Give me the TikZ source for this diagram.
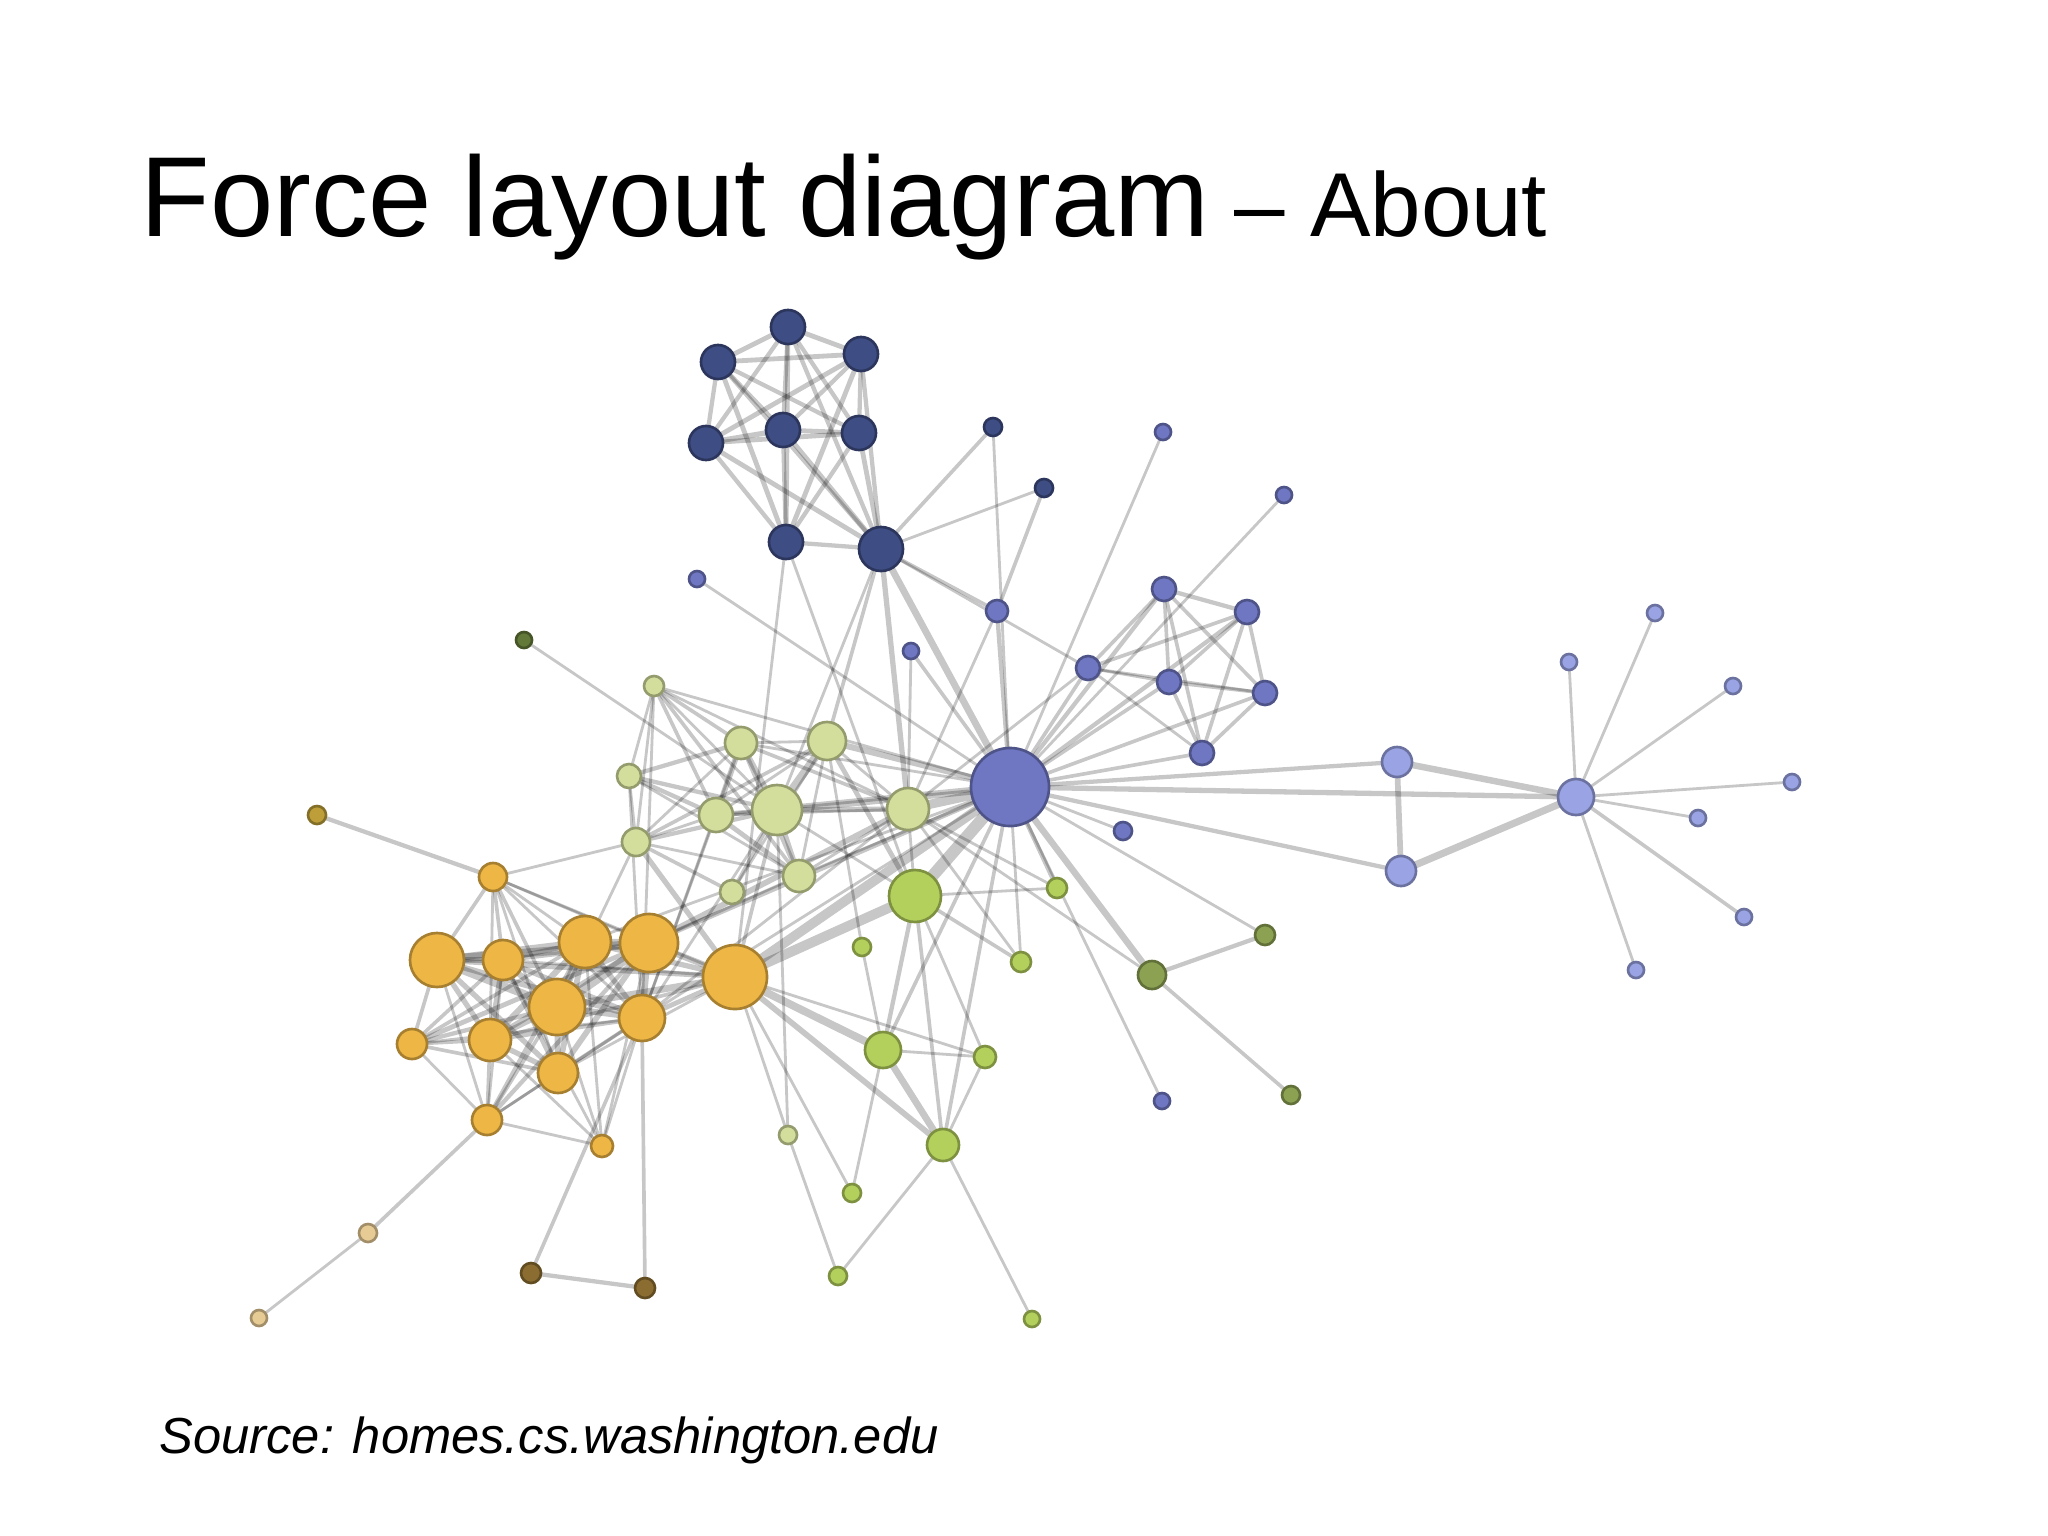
\documentclass[tikz,border=0pt]{standalone}
\usepackage{fontspec}
\setmainfont{Liberation Sans}
\pgfdeclarelayer{bg}
\pgfdeclarelayer{edges}
\pgfsetlayers{bg,edges,main}
\definecolor{cA}{HTML}{9AA3E3}
\definecolor{cB}{HTML}{6F76C2}
\definecolor{cC}{HTML}{3F4D85}
\definecolor{cD}{HTML}{D4DE9C}
\definecolor{cE}{HTML}{B3CF5C}
\definecolor{cF}{HTML}{8CA252}
\definecolor{cG}{HTML}{637939}
\definecolor{cH}{HTML}{E7CB94}
\definecolor{cI}{HTML}{EEB644}
\definecolor{cJ}{HTML}{BD9E39}
\definecolor{cK}{HTML}{8C6D31}
\begin{document}
\begin{tikzpicture}[x=0.01cm,y=-0.01cm,
  nd/.style 2 args={circle,inner sep=0pt,outer sep=0pt,minimum size=#2*0.02cm,fill=#1,draw=#1!70!black,line width=0.75pt},
  lnk/.style={draw=black,draw opacity=0.22,line cap=round},
  txt/.style={anchor=base west,inner sep=0pt,text=black}]
\begin{pgfonlayer}{bg}
\fill[white] (0,0) rectangle (2048,1536);
\end{pgfonlayer}
\useasboundingbox (0,0) rectangle (2048,1536);

% title and source
\node[txt,font=\fontsize{32.35pt}{38pt}\selectfont] (title) at (140,236) {Force layout diagram\fontsize{25.8pt}{30pt}\selectfont\ – About};
\node[txt,font=\itshape\fontsize{14.4pt}{17pt}\selectfont] (src) at (159,1453) {Source: homes.cs.washington.edu};

% group 1
\node[nd={cA}{18}] (Myriel) at (1576,797) {};
\node[nd={cA}{15}] (Baptistine) at (1397,762) {};
\node[nd={cA}{15}] (Magloire) at (1401,871) {};
\node[nd={cA}{8}] (Napoleon) at (1569,662) {};
\node[nd={cA}{8}] (CountessdeLo) at (1655,613) {};
\node[nd={cA}{8}] (Geborand) at (1733,686) {};
\node[nd={cA}{8}] (Champtercier) at (1792,782) {};
\node[nd={cA}{8}] (Cravatte) at (1698,818) {};
\node[nd={cA}{8}] (Count) at (1744,917) {};
\node[nd={cA}{8}] (OldMan) at (1636,970) {};
% group 2
\node[nd={cB}{39}] (Valjean) at (1010,787) {};
\node[nd={cB}{8}] (Labarre) at (1163,432) {};
\node[nd={cB}{8}] (MmedeR) at (1284,495) {};
\node[nd={cB}{9}] (Isabeau) at (1123,831) {};
\node[nd={cB}{8}] (Gervais) at (1162,1101) {};
\node[nd={cB}{8}] (Scaufflaire) at (697,579) {};
\node[nd={cB}{8}] (Woman1) at (911,651) {};
\node[nd={cB}{11}] (Simplice) at (997,611) {};
\node[nd={cB}{12}] (Judge) at (1164,589) {};
\node[nd={cB}{12}] (Champmathieu) at (1247,612) {};
\node[nd={cB}{12}] (Bamatabois) at (1088,668) {};
\node[nd={cB}{12}] (Brevet) at (1169,682) {};
\node[nd={cB}{12}] (Chenildieu) at (1265,693) {};
\node[nd={cB}{12}] (Cochepaille) at (1202,753) {};
% group 3
\node[nd={cC}{17}] (Listolier) at (788,327) {};
\node[nd={cC}{17}] (Fameuil) at (718,362) {};
\node[nd={cC}{17}] (Blacheville) at (861,354) {};
\node[nd={cC}{17}] (Favourite) at (706,443) {};
\node[nd={cC}{17}] (Dahlia) at (783,430) {};
\node[nd={cC}{17}] (Zephine) at (859,433) {};
\node[nd={cC}{17}] (Tholomyes) at (786,542) {};
\node[nd={cC}{22}] (Fantine) at (881,549) {};
\node[nd={cC}{9}] (Marguerite) at (993,427) {};
\node[nd={cC}{9}] (Perpetue) at (1044,488) {};
% group 4
\node[nd={cD}{25}] (Thenardier) at (777,810) {};
\node[nd={cD}{19}] (MmeThenardier) at (827,741) {};
\node[nd={cD}{21}] (Javert) at (908,809) {};
\node[nd={cD}{9}] (Pontmercy) at (788,1135) {};
\node[nd={cD}{14}] (Eponine) at (636,842) {};
\node[nd={cD}{12}] (Anzelma) at (732,892) {};
\node[nd={cD}{17}] (Gueulemer) at (716,815) {};
\node[nd={cD}{16}] (Babet) at (741,743) {};
\node[nd={cD}{16}] (Claquesous) at (799,876) {};
\node[nd={cD}{10}] (Montparnasse) at (654,686) {};
\node[nd={cD}{12}] (Brujon) at (629,776) {};
% group 5
\node[nd={cE}{26}] (Cosette) at (915,896) {};
\node[nd={cE}{10}] (Woman2) at (1057,888) {};
\node[nd={cE}{9}] (Magnon) at (862,947) {};
\node[nd={cE}{10}] (Toussaint) at (1021,962) {};
\node[nd={cE}{18}] (Gillenormand) at (883,1050) {};
\node[nd={cE}{11}] (LtGillenormand) at (985,1057) {};
\node[nd={cE}{16}] (MlleGillenormand) at (943,1145) {};
\node[nd={cE}{9}] (BaronessT) at (852,1193) {};
\node[nd={cE}{9}] (MmePontmercy) at (838,1276) {};
\node[nd={cE}{8}] (MlleVaubois) at (1032,1319) {};
% group 0
\node[nd={cF}{14}] (Fauchelevent) at (1152,975) {};
\node[nd={cF}{10}] (MotherInnocent) at (1265,935) {};
\node[nd={cF}{9}] (Gribier) at (1291,1095) {};
% small groups
\node[nd={cG}{8}] (Boulatruelle) at (524,640) {};
\node[nd={cH}{9}] (MmeBurgon) at (368,1233) {};
\node[nd={cH}{8}] (Jondrette) at (259,1318) {};
\node[nd={cJ}{9}] (MotherPlutarch) at (317,815) {};
\node[nd={cK}{10}] (Child1) at (531,1273) {};
\node[nd={cK}{10}] (Child2) at (645,1288) {};
% group 8
\node[nd={cI}{14}] (Mabeuf) at (493,877) {};
\node[nd={cI}{27}] (Combeferre) at (437,960) {};
\node[nd={cI}{20}] (Bahorel) at (503,960) {};
\node[nd={cI}{26}] (Bossuet) at (585,942) {};
\node[nd={cI}{29}] (Enjolras) at (649,943) {};
\node[nd={cI}{32}] (Marius) at (735,977) {};
\node[nd={cI}{28}] (Courfeyrac) at (557,1007) {};
\node[nd={cI}{23}] (Gavroche) at (642,1018) {};
\node[nd={cI}{15}] (Prouvaire) at (412,1044) {};
\node[nd={cI}{21}] (Joly) at (490,1040) {};
\node[nd={cI}{20}] (Feuilly) at (558,1073) {};
\node[nd={cI}{15}] (Grantaire) at (487,1120) {};
\node[nd={cI}{11}] (Hucheloup) at (602,1146) {};

\begin{pgfonlayer}{edges}
\foreach \a/\b/\w in {
Napoleon/Myriel/1, Baptistine/Myriel/8, Magloire/Myriel/10, Magloire/Baptistine/6,
CountessdeLo/Myriel/1, Geborand/Myriel/1, Champtercier/Myriel/1, Cravatte/Myriel/1,
Count/Myriel/2, OldMan/Myriel/1,
Valjean/Labarre/1, Valjean/Magloire/3, Valjean/Baptistine/3, Valjean/Myriel/5,
Marguerite/Valjean/1, MmedeR/Valjean/1, Isabeau/Valjean/1, Gervais/Valjean/1,
Listolier/Tholomyes/4, Fameuil/Tholomyes/4, Fameuil/Listolier/4,
Blacheville/Tholomyes/4, Blacheville/Listolier/4, Blacheville/Fameuil/4,
Favourite/Tholomyes/3, Favourite/Listolier/3, Favourite/Fameuil/3, Favourite/Blacheville/4,
Dahlia/Tholomyes/3, Dahlia/Listolier/3, Dahlia/Fameuil/3, Dahlia/Blacheville/3, Dahlia/Favourite/5,
Zephine/Tholomyes/3, Zephine/Listolier/3, Zephine/Fameuil/3, Zephine/Blacheville/3, Zephine/Favourite/4, Zephine/Dahlia/4,
Fantine/Tholomyes/3, Fantine/Listolier/3, Fantine/Fameuil/3, Fantine/Blacheville/3,
Fantine/Favourite/4, Fantine/Dahlia/4, Fantine/Zephine/4, Fantine/Marguerite/2, Fantine/Valjean/9,
MmeThenardier/Fantine/2, MmeThenardier/Valjean/7,
Thenardier/MmeThenardier/13, Thenardier/Fantine/1, Thenardier/Valjean/12,
Cosette/MmeThenardier/4, Cosette/Valjean/31, Cosette/Tholomyes/1, Cosette/Thenardier/1,
Javert/Valjean/17, Javert/Fantine/5, Javert/Thenardier/5, Javert/MmeThenardier/1, Javert/Cosette/1,
Fauchelevent/Valjean/8, Fauchelevent/Javert/1,
Bamatabois/Fantine/1, Bamatabois/Javert/1, Bamatabois/Valjean/2,
Perpetue/Fantine/1, Simplice/Perpetue/2, Simplice/Valjean/3, Simplice/Fantine/2, Simplice/Javert/1,
Scaufflaire/Valjean/1, Woman1/Valjean/2, Woman1/Javert/1,
Judge/Valjean/3, Judge/Bamatabois/2,
Champmathieu/Valjean/3, Champmathieu/Judge/3, Champmathieu/Bamatabois/2,
Brevet/Judge/2, Brevet/Champmathieu/2, Brevet/Valjean/2, Brevet/Bamatabois/1,
Chenildieu/Judge/2, Chenildieu/Champmathieu/2, Chenildieu/Brevet/2, Chenildieu/Valjean/2, Chenildieu/Bamatabois/1,
Cochepaille/Judge/2, Cochepaille/Champmathieu/2, Cochepaille/Brevet/2, Cochepaille/Chenildieu/2, Cochepaille/Valjean/2, Cochepaille/Bamatabois/1,
Pontmercy/Thenardier/1, Boulatruelle/Thenardier/1,
Eponine/MmeThenardier/2, Eponine/Thenardier/3,
Anzelma/Eponine/2, Anzelma/Thenardier/2, Anzelma/MmeThenardier/1,
Woman2/Valjean/3, Woman2/Cosette/1, Woman2/Javert/1,
MotherInnocent/Fauchelevent/3, MotherInnocent/Valjean/1, Gribier/Fauchelevent/2,
MmeBurgon/Jondrette/1, Grantaire/MmeBurgon/2,
Gavroche/Thenardier/1, Gavroche/Javert/1, Gavroche/Valjean/1,
Gillenormand/Cosette/3, Gillenormand/Valjean/2,
Magnon/Gillenormand/1, Magnon/MmeThenardier/1,
MlleGillenormand/Gillenormand/9, MlleGillenormand/Cosette/2, MlleGillenormand/Valjean/2,
MmePontmercy/MlleGillenormand/1, MmePontmercy/Pontmercy/1, MlleVaubois/MlleGillenormand/1,
LtGillenormand/MlleGillenormand/1, LtGillenormand/Gillenormand/1, LtGillenormand/Cosette/1,
Marius/MlleGillenormand/6, Marius/Gillenormand/12, Marius/Pontmercy/1, Marius/LtGillenormand/1,
Marius/Cosette/21, Marius/Valjean/19, Marius/Tholomyes/1, Marius/Thenardier/2, Marius/Eponine/5, Marius/Gavroche/4,
BaronessT/Gillenormand/1, BaronessT/Marius/1,
Mabeuf/Marius/1, Mabeuf/Eponine/1, Mabeuf/Gavroche/1,
Enjolras/Marius/7, Enjolras/Gavroche/7, Enjolras/Javert/6, Enjolras/Mabeuf/1, Enjolras/Valjean/4,
Combeferre/Enjolras/15, Combeferre/Marius/5, Combeferre/Gavroche/6, Combeferre/Mabeuf/2,
Prouvaire/Gavroche/1, Prouvaire/Enjolras/4, Prouvaire/Combeferre/2,
Feuilly/Gavroche/2, Feuilly/Enjolras/6, Feuilly/Prouvaire/2, Feuilly/Combeferre/5, Feuilly/Mabeuf/1, Feuilly/Marius/1,
Courfeyrac/Marius/9, Courfeyrac/Enjolras/17, Courfeyrac/Combeferre/13, Courfeyrac/Gavroche/7,
Courfeyrac/Mabeuf/2, Courfeyrac/Eponine/1, Courfeyrac/Feuilly/6, Courfeyrac/Prouvaire/3,
Bahorel/Combeferre/5, Bahorel/Gavroche/5, Bahorel/Courfeyrac/6, Bahorel/Mabeuf/2,
Bahorel/Enjolras/4, Bahorel/Feuilly/3, Bahorel/Prouvaire/2, Bahorel/Marius/1,
Bossuet/Marius/5, Bossuet/Courfeyrac/12, Bossuet/Gavroche/5, Bossuet/Bahorel/4, Bossuet/Enjolras/10,
Bossuet/Feuilly/6, Bossuet/Prouvaire/2, Bossuet/Combeferre/9, Bossuet/Mabeuf/1, Bossuet/Valjean/1,
Joly/Bahorel/5, Joly/Bossuet/7, Joly/Gavroche/3, Joly/Courfeyrac/5, Joly/Enjolras/5,
Joly/Feuilly/5, Joly/Prouvaire/2, Joly/Combeferre/5, Joly/Mabeuf/1, Joly/Marius/2,
Grantaire/Bossuet/3, Grantaire/Enjolras/3, Grantaire/Combeferre/1, Grantaire/Courfeyrac/2,
Grantaire/Joly/2, Grantaire/Gavroche/1, Grantaire/Bahorel/1, Grantaire/Feuilly/1, Grantaire/Prouvaire/1,
MotherPlutarch/Mabeuf/3,
Gueulemer/Thenardier/5, Gueulemer/Valjean/1, Gueulemer/MmeThenardier/1, Gueulemer/Javert/1, Gueulemer/Gavroche/1, Gueulemer/Eponine/1,
Babet/Thenardier/6, Babet/Gueulemer/6, Babet/Valjean/1, Babet/MmeThenardier/1, Babet/Javert/2, Babet/Gavroche/1, Babet/Eponine/1,
Claquesous/Babet/4, Claquesous/Gueulemer/4, Claquesous/Thenardier/4, Claquesous/MmeThenardier/1,
Claquesous/Javert/1, Claquesous/Eponine/1, Claquesous/Enjolras/1, Claquesous/Valjean/1,
Montparnasse/Javert/1, Montparnasse/Babet/2, Montparnasse/Gueulemer/2, Montparnasse/Claquesous/2,
Montparnasse/Valjean/1, Montparnasse/Gavroche/1, Montparnasse/Eponine/1, Montparnasse/Thenardier/1,
Toussaint/Cosette/2, Toussaint/Javert/1, Toussaint/Valjean/1,
Child1/Gavroche/2, Child2/Gavroche/2, Child2/Child1/3,
Brujon/Babet/3, Brujon/Gueulemer/3, Brujon/Thenardier/3, Brujon/Gavroche/1, Brujon/Eponine/1, Brujon/Claquesous/1, Brujon/Montparnasse/1,
Hucheloup/Bossuet/1, Hucheloup/Joly/1, Hucheloup/Grantaire/1, Hucheloup/Bahorel/1,
Hucheloup/Courfeyrac/1, Hucheloup/Gavroche/1, Hucheloup/Enjolras/1}{
  \pgfmathsetmacro\lw{0.23+0.57*sqrt(\w)}
  \draw[lnk,line width=\lw pt] (\a) -- (\b);
}
\end{pgfonlayer}
\end{tikzpicture}
\end{document}
